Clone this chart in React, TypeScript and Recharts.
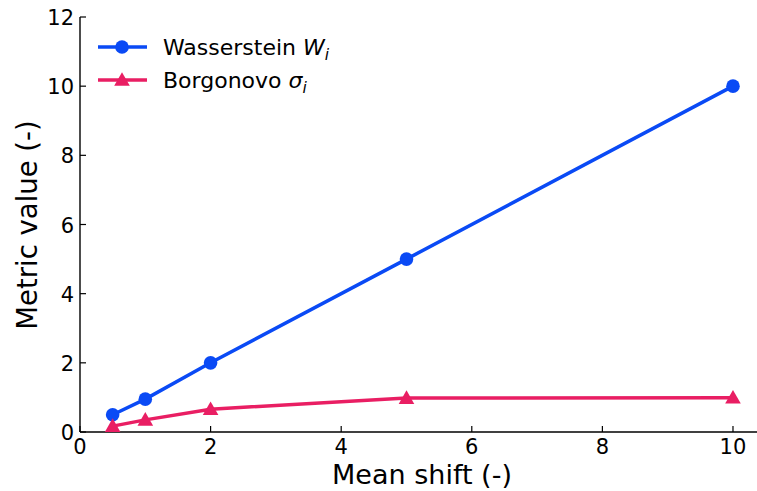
import { Line, LineChart, XAxis, YAxis } from 'recharts';

const meanShift = [0.5, 1, 2, 5, 10];
const wasserstein = [0.5, 0.95, 2.0, 5.0, 10.0];
const borgonovo = [0.17, 0.35, 0.66, 0.98, 0.99];
const xTicks = [0, 2, 4, 6, 8, 10];
const yTicks = [0, 2, 4, 6, 8, 10, 12];

const BLUE = '#0a4af5';
const PINK = '#e91e63';
const FONT = '"DejaVu Sans", sans-serif';

const data = meanShift.map((x, i) => ({ x, w: wasserstein[i], b: borgonovo[i] }));

function BottomTick({ x, y, payload }: any) {
  return (
    <g>
      <line x1={x} y1={y} x2={x} y2={y - 6} stroke="#000" strokeWidth={1.2} />
      <text x={x} y={y + 22} textAnchor="middle" fontSize={21} fontFamily={FONT} fill="#000">
        {payload.value}
      </text>
    </g>
  );
}

function TopTick({ x, y }: any) {
  return <line x1={x} y1={y} x2={x} y2={y + 6} stroke="#000" strokeWidth={1.2} />;
}

function LeftTick({ x, y, payload }: any) {
  return (
    <g>
      <line x1={x} y1={y} x2={x + 6} y2={y} stroke="#000" strokeWidth={1.2} />
      <text x={x - 6} y={y + 8} textAnchor="end" fontSize={21} fontFamily={FONT} fill="#000">
        {payload.value}
      </text>
    </g>
  );
}

function Triangle({ cx, cy }: any) {
  const s = 7.8;
  return (
    <polygon
      points={`${cx},${cy - s} ${cx - s},${cy + s * 0.75} ${cx + s},${cy + s * 0.75}`}
      fill={PINK}
    />
  );
}

function LegendBox() {
  const rows = [
    { color: BLUE, name: 'Wasserstein ', sym: 'W', tri: false, y: 47 },
    { color: PINK, name: 'Borgonovo ', sym: 'σ', tri: true, y: 80 }
  ];
  return (
    <svg width={380} height={100} style={{ position: 'absolute', left: 0, top: 0 }}>
      {rows.map((r) => (
        <g key={r.name}>
          <line x1={98} y1={r.y} x2={147} y2={r.y} stroke={r.color} strokeWidth={3.5} />
          {r.tri ? (
            <polygon points={`122,${r.y - 7.8} 114.2,${r.y + 5.8} 129.8,${r.y + 5.8}`} fill={r.color} />
          ) : (
            <circle cx={122} cy={r.y} r={6.8} fill={r.color} />
          )}
          <text x={163} y={r.y + 8} fontSize={22} fontFamily={FONT} fill="#000">
            {r.name}
            <tspan fontStyle="italic">{r.sym}</tspan>
            <tspan fontStyle="italic" fontSize={15.5} dy={5}>i</tspan>
          </text>
        </g>
      ))}
    </svg>
  );
}

export default function App() {
  return (
    <div style={{ position: 'absolute', left: 0, top: 0, width: 757, height: 491, overflow: 'hidden', background: '#fff' }}>
      <LineChart width={766} height={491} data={data} margin={{ top: 17, right: 2, bottom: 0, left: 0 }}>
        <XAxis
          xAxisId="bottom"
          dataKey="x"
          type="number"
          domain={[0, 10.475]}
          ticks={xTicks}
          tickSize={0}
          tickMargin={0}
          tickLine={false}
          tick={<BottomTick />}
          height={59}
          axisLine={{ stroke: '#000', strokeWidth: 1.4 }}
          label={() => (
            <text x={422} y={484} textAnchor="middle" fontSize={27} fontFamily={FONT} fill="#000">
              Mean shift (-)
            </text>
          )}
        />
        <XAxis
          xAxisId="top"
          orientation="top"
          dataKey="x"
          type="number"
          domain={[0, 10.475]}
          ticks={xTicks}
          tickSize={0}
          tickMargin={0}
          tickLine={false}
          tick={<TopTick />}
          height={0}
          axisLine={{ stroke: '#000', strokeWidth: 1.4 }}
        />
        <YAxis
          domain={[0, 12]}
          ticks={yTicks}
          type="number"
          tickSize={0}
          tickMargin={0}
          tickLine={false}
          tick={<LeftTick />}
          width={80}
          axisLine={{ stroke: '#000', strokeWidth: 1.4 }}
          label={() => (
            <text
              x={37}
              y={225}
              transform="rotate(-90, 37, 225)"
              textAnchor="middle"
              fontSize={27.5}
              fontFamily={FONT}
              fill="#000"
            >
              Metric value (-)
            </text>
          )}
        />
        <Line
          xAxisId="bottom"
          dataKey="w"
          name="Wasserstein W_i"
          stroke={BLUE}
          strokeWidth={3.5}
          dot={{ r: 6.8, fill: BLUE, stroke: 'none' }}
          activeDot={false}
          isAnimationActive={false}
        />
        <Line
          xAxisId="bottom"
          dataKey="b"
          name="Borgonovo σ_i"
          stroke={PINK}
          strokeWidth={3.5}
          dot={<Triangle />}
          activeDot={false}
          isAnimationActive={false}
        />
      </LineChart>
      <LegendBox />
    </div>
  );
}
